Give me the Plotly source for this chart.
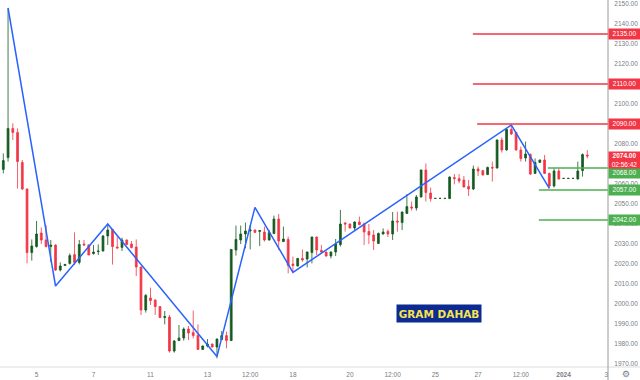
import plotly.graph_objects as go

# candles: open, high, low, close
opens = [2067.3,2073.2,2087.8,2085.8,2070.8,2057.5,2025.7,2028.7,2035.5,2032.0,2028.7,2029.5,2017.0,2019.2,2020.3,2024.7,2020.8,2030.0,2029.5,2025.2,
2026.2,2026.5,2034.0,2037.3,2028.5,2028.3,2032.0,2030.0,2028.5,2018.5,1997.0,2003.0,2002.0,1998.7,1993.2,1993.5,1976.5,1981.7,1983.0,1987.5,
1985.8,1984.3,1977.3,1979.0,1980.0,1978.5,1982.2,1984.2,1981.7,2027.0,2032.0,2035.0,2036.5,2037.0,2036.3,2036.0,2032.0,2035.2,2042.5,2031.2,
2032.3,2020.0,2019.0,2022.8,2022.5,2025.7,2033.5,2026.8,2026.0,2024.0,2026.0,2029.7,2040.5,2040.0,2038.0,2041.0,2040.0,2036.3,2034.5,2030.3,
2035.0,2036.3,2035.0,2041.5,2040.7,2045.3,2048.5,2048.0,2053.5,2067.0,2055.5,2052.8,2052.8,2052.8,2052.7,2063.2,2062.7,2062.0,2058.8,2057.5,
2067.5,2066.7,2064.7,2068.3,2068.0,2082.0,2077.0,2087.3,2085.8,2077.0,2073.0,2074.8,2065.3,2070.8,2072.0,2065.3,2059.0,2066.5,2062.8,2062.8,
2062.8,2062.5,2066.7,2074.5]
highs = [2075.3,2147.8,2090.3,2087.8,2072.0,2057.8,2032.3,2041.5,2038.3,2039.5,2032.0,2029.8,2020.8,2020.0,2025.3,2035.8,2032.0,2032.0,2029.8,2029.5,
2029.8,2034.5,2039.8,2037.5,2033.7,2033.2,2032.3,2031.5,2032.3,2018.7,2005.0,2008.2,2002.3,1999.0,1996.5,1994.5,1982.0,1989.5,1988.3,1989.0,
1996.7,1989.8,1979.3,1982.5,1980.2,1982.7,1986.5,1986.2,2027.3,2039.2,2039.2,2040.7,2039.5,2037.2,2037.0,2038.7,2037.0,2044.2,2045.0,2038.7,
2033.7,2023.7,2023.0,2027.3,2026.2,2033.7,2033.7,2029.5,2026.2,2026.2,2032.5,2047.0,2041.0,2040.2,2041.3,2043.7,2040.7,2040.0,2037.0,2035.7,
2037.8,2037.3,2046.0,2046.2,2046.2,2055.0,2051.2,2054.5,2067.2,2070.3,2058.2,2052.9,2052.9,2052.9,2063.8,2065.0,2065.0,2064.0,2062.0,2069.2,
2068.7,2067.0,2068.7,2071.2,2082.3,2083.3,2087.8,2089.5,2086.0,2078.7,2081.2,2075.3,2072.8,2072.2,2074.5,2065.7,2067.8,2067.8,2062.9,2062.9,
2062.9,2071.2,2075.3,2077.0]
lows = [2065.3,2071.2,2082.0,2057.7,2057.0,2020.3,2021.7,2028.2,2030.0,2028.3,2021.0,2016.5,2016.3,2019.0,2019.7,2019.5,2019.8,2029.3,2024.5,2024.7,
2024.5,2026.3,2029.5,2019.7,2027.8,2026.5,2029.5,2027.8,2014.0,1994.5,1995.7,1999.5,1994.5,1993.0,1989.8,1975.7,1975.7,1981.5,1981.7,1982.0,
1982.8,1977.0,1977.0,1978.3,1978.3,1972.8,1982.0,1977.8,1981.5,2024.2,2030.0,2027.8,2027.3,2035.7,2029.0,2031.2,2031.7,2035.0,2027.0,2031.0,
2015.3,2016.2,2018.8,2021.2,2018.3,2020.3,2024.5,2025.3,2023.7,2022.8,2024.0,2028.7,2036.2,2037.8,2036.5,2039.3,2029.5,2030.0,2027.0,2030.0,
2034.7,2033.5,2032.0,2036.2,2037.0,2045.0,2046.7,2046.7,2053.3,2051.2,2051.2,2052.7,2052.7,2052.7,2052.5,2059.8,2060.3,2058.3,2054.0,2057.0,
2064.0,2064.3,2064.5,2061.2,2067.8,2075.7,2076.7,2084.5,2076.7,2071.2,2071.2,2064.5,2065.0,2070.7,2065.0,2057.8,2058.3,2062.3,2062.7,2062.7,
2062.7,2062.3,2063.7,2072.8]
closes = [2071.7,2087.8,2085.8,2071.2,2057.5,2025.7,2029.0,2035.0,2032.0,2028.7,2029.5,2017.0,2019.0,2019.8,2024.2,2020.8,2029.8,2029.5,2024.5,2026.0,
2026.5,2034.0,2037.0,2028.7,2028.0,2032.0,2029.8,2028.2,2018.5,1997.0,2004.3,2001.7,1998.7,1993.2,1993.7,1976.5,1981.5,1983.0,1987.5,1985.5,
1984.2,1977.3,1979.0,1980.0,1978.5,1982.5,1984.2,1981.7,2027.3,2032.3,2035.0,2036.5,2037.0,2035.8,2036.7,2032.0,2035.7,2042.5,2031.5,2032.5,
2019.2,2019.2,2022.8,2022.0,2026.0,2033.5,2027.0,2026.0,2024.0,2026.0,2030.0,2040.0,2040.0,2038.0,2041.0,2039.7,2036.0,2034.5,2031.5,2035.3,
2036.0,2035.0,2041.5,2041.0,2046.0,2048.7,2048.0,2053.5,2067.0,2055.7,2052.7,2052.8,2052.8,2052.8,2063.5,2062.7,2061.5,2058.5,2057.5,2067.5,
2066.5,2064.5,2068.3,2068.0,2082.0,2077.0,2087.3,2085.0,2077.0,2072.7,2075.0,2065.0,2070.8,2072.0,2065.3,2059.0,2066.5,2062.5,2062.8,2062.8,
2062.8,2066.5,2074.7,2074.0]

zigzag_index = [1, 11, 22, 45, 53, 61, 107, 115]
zigzag_price = [2148, 2009, 2040, 1973.7, 2048.3, 2015.8, 2089.5, 2057.8]

level_prices = [2135, 2110, 2090, 2068, 2057, 2042]
level_starts = [98.9, 98.9, 99.8, 114.7, 112.8, 112.8]
level_colors = ["#f23645", "#f23645", "#f23645", "#4caf50", "#4caf50", "#4caf50"]
tag_prices = [2135, 2110, 2090, 2065.5, 2056.8, 2042]

price_ticks = list(range(1970, 2160, 10))
time_ticks = [7, 19, 31, 43, 52, 61, 73, 82, 91, 100, 109, 118, 127]
time_labels = ["5", "7", "11", "13", "12:00", "18", "20", "12:00", "25", "27", "12:00", "<b>2024</b>", "3"]

last_price = 2074
last_tag_price = 2072
countdown = "02:56:42"
title_text = "GRAM DAHAB"

W, H = 640, 380
PW, PH = 608, 367
XMIN, XMAX = -0.695, 127.36
axis_font = dict(family="Liberation Sans", size=6.5, color="#787b86")

fig = go.Figure()
fig.add_trace(go.Candlestick(
    x=list(range(len(opens))), open=opens, high=highs, low=lows, close=closes,
    increasing=dict(line=dict(color="#14591f", width=0.8), fillcolor="#14591f"),
    decreasing=dict(line=dict(color="#f23645", width=0.8), fillcolor="#f23645"),
    whiskerwidth=0, hoverinfo="skip", showlegend=False,
))
fig.add_trace(go.Scatter(x=zigzag_index, y=zigzag_price, mode="lines",
                         line=dict(color="#2962ff", width=1.5), hoverinfo="skip", showlegend=False))
for p, s, c, t in zip(level_prices, level_starts, level_colors, tag_prices):
    fig.add_trace(go.Scatter(x=[s, XMAX], y=[p, p], mode="lines",
                             line=dict(color=c, width=1.3), hoverinfo="skip", showlegend=False))
    fig.add_annotation(xref="paper", yref="y", x=1, y=t, xanchor="left", yanchor="middle",
                       text=f"{p}.00", showarrow=False, bgcolor=c, width=31, height=9.5, borderpad=0,
                       align="center", font=dict(family="Liberation Sans", size=6.5, color="white"))

fig.add_annotation(xref="paper", yref="y", x=1, y=last_tag_price, xanchor="left", yanchor="middle",
                   text=f"<b>{last_price}.00</b><br>{countdown}", showarrow=False, bgcolor="#f23645",
                   width=31, height=16, align="center", borderpad=0,
                   font=dict(family="Liberation Sans", size=6.5, color="white"))
fig.add_annotation(xref="paper", yref="paper", x=(397 + 42) / PW, y=(H - 313.5 - (H - PH)) / PH,
                   xanchor="center", yanchor="middle", text=f"<b>{title_text}</b>", showarrow=False,
                   bgcolor="#0c2a8f", width=84, height=17, borderpad=0,
                   font=dict(family="DejaVu Sans", size=10.5, color="#f7e44f"))
fig.add_annotation(xref="paper", yref="paper", x=626 / PW, y=-7 / PH, xanchor="center", yanchor="middle",
                   text="⚙", showarrow=False, font=dict(family="DejaVu Sans", size=9, color="#787b86"))

fig.update_layout(
    width=W, height=H, margin=dict(l=0, r=W - PW, t=0, b=H - PH),
    paper_bgcolor="white", plot_bgcolor="white", showlegend=False,
    boxgap=0.45,
    xaxis=dict(range=[XMIN, XMAX], rangeslider=dict(visible=False), showgrid=False, zeroline=False,
               tickmode="array", tickvals=time_ticks, ticktext=time_labels, ticks="outside", ticklen=1,
               tickcolor="rgba(0,0,0,0)", tickfont=axis_font, showline=False),
    yaxis=dict(range=[1968.5, 2152], side="right", showgrid=False, zeroline=False, tickmode="array",
               tickvals=price_ticks, ticktext=[f"{v}.00" for v in price_ticks], ticks="outside", ticklen=4,
               tickcolor="rgba(0,0,0,0)", tickfont=axis_font, showline=False),
    shapes=[
        dict(type="line", xref="paper", yref="paper", x0=0, x1=W / PW, y0=0, y1=0,
             line=dict(color="#dcdcdc", width=1)),
        dict(type="line", xref="paper", yref="paper", x0=1, x1=1, y0=-(H - PH) / PH, y1=1,
             line=dict(color="#9a9a9a", width=1)),
    ],
)
fig.write_html("out.html", config=dict(displayModeBar=False),
               post_script="document.body.style.margin='0';document.body.style.overflow='hidden';")
